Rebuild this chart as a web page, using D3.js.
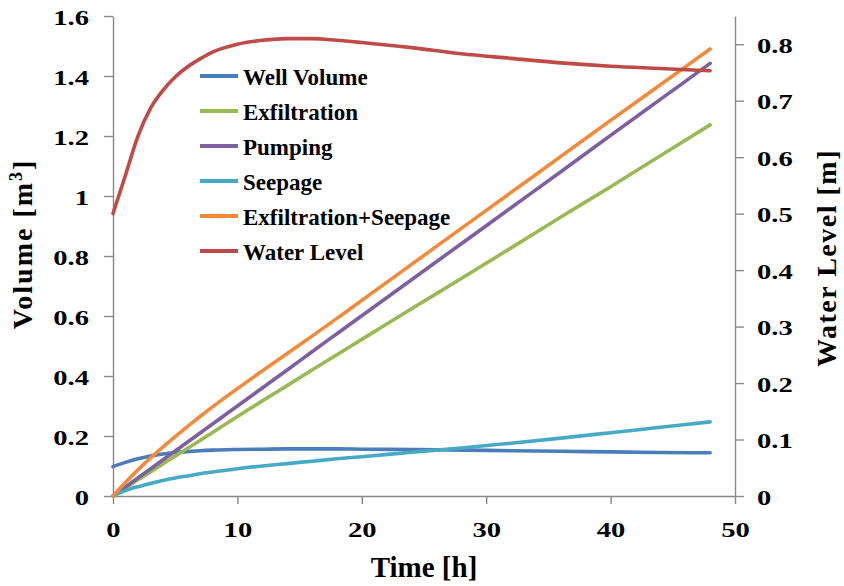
<!DOCTYPE html>
<html><head><meta charset="utf-8">
<script src="https://cdn.jsdelivr.net/npm/d3@7/dist/d3.min.js"></script>
<style>
body{margin:0;background:#fff;}
svg text{font-family:"Liberation Serif","Times New Roman",serif !important;font-weight:bold;fill:#000;}
</style></head>
<body><svg id="c" width="844" height="586"></svg>
<script>
const time = [0,1,2,3,4,5,6,7,8,10,12,14,16,18,20,24,28,32,36,40,44,48];
const wellVolume = [0.098,0.112,0.124,0.133,0.140,0.145,0.148,0.151,0.153,0.155,0.156,0.157,0.157,0.157,0.156,0.155,0.153,0.151,0.149,0.147,0.145,0.144];
const exfiltration = [0,0.027,0.054,0.08,0.107,0.133,0.159,0.185,0.212,0.265,0.317,0.368,0.42,0.471,0.522,0.624,0.725,0.827,0.93,1.031,1.134,1.237];
const pumping = [0,0.03,0.06,0.09,0.12,0.15,0.18,0.21,0.24,0.3,0.36,0.42,0.481,0.541,0.601,0.721,0.841,0.961,1.081,1.202,1.322,1.442];
const seepage = [0,0.018,0.031,0.042,0.052,0.06,0.067,0.074,0.08,0.091,0.1,0.108,0.116,0.124,0.131,0.146,0.16,0.176,0.193,0.211,0.229,0.247];
const exfilSeepage = [0,0.045,0.087,0.126,0.163,0.198,0.232,0.265,0.297,0.358,0.417,0.475,0.533,0.592,0.652,0.772,0.892,1.012,1.132,1.252,1.371,1.49];
const waterLevel = [0.5,0.568,0.637,0.686,0.718,0.742,0.76,0.774,0.786,0.8,0.807,0.81,0.81,0.807,0.803,0.794,0.783,0.775,0.767,0.761,0.757,0.753];
const xTicks = [0,10,20,30,40,50];
const leftTicks = [0,0.2,0.4,0.6,0.8,1,1.2,1.4,1.6];
const rightTicks = [0,0.1,0.2,0.3,0.4,0.5,0.6,0.7,0.8];
const seriesNames = ["Well Volume","Exfiltration","Pumping","Seepage","Exfiltration+Seepage","Water Level"];
const seriesColors = ["#4A7EBB","#98B954","#7D60A0","#46AAC5","#F38A3A","#BE4B48"];

const FONT = "'Liberation Serif','Times New Roman',serif";
const svg = d3.select("#c");
const x = d3.scaleLinear().domain([0,50]).range([113,735]);
const yL = d3.scaleLinear().domain([0,1.6]).range([496,16]);
const yR = d3.scaleLinear().domain([0,0.85]).range([496,16]);
const axisColor = "#898989";
const fmt = d => String(+(+d).toFixed(1));

function styleAxis(g){
  g.attr("font-family",FONT).attr("font-weight","bold");
  g.select(".domain").attr("stroke",axisColor).attr("stroke-width",1.4);
  g.selectAll(".tick line").attr("stroke",axisColor).attr("stroke-width",1.4);
  g.selectAll(".tick text").attr("font-size",22).attr("fill","#000").attr("font-family",FONT).attr("font-weight","bold");
}
// x axis
const gx = svg.append("g").attr("transform","translate(0,496)")
  .call(d3.axisBottom(x).tickValues(xTicks).tickSize(8).tickSizeOuter(0).tickFormat(fmt));
styleAxis(gx);
gx.selectAll(".tick text").attr("y",0).attr("dy",null)
  .attr("transform","translate(0,41) scale(1.3,1)").attr("text-anchor","middle");
// left axis
const gl = svg.append("g").attr("transform","translate(113,0)")
  .call(d3.axisLeft(yL).tickValues(leftTicks).tickSize(9).tickSizeOuter(0).tickFormat(fmt));
styleAxis(gl);
gl.selectAll(".tick text").attr("x",0).attr("dy",null).attr("y",0)
  .attr("transform","translate(-24,8) scale(1.3,1)").attr("text-anchor","end");
// right axis
const gr = svg.append("g").attr("transform","translate(735,0)")
  .call(d3.axisRight(yR).tickValues(rightTicks).tickSize(9).tickSizeOuter(0).tickFormat(fmt));
styleAxis(gr);
gr.selectAll(".tick text").attr("x",0).attr("dy",null).attr("y",0)
  .attr("transform","translate(22,8) scale(1.3,1)").attr("text-anchor","start");

// titles
svg.append("text").attr("x",424).attr("y",577).attr("text-anchor","middle").attr("font-size",29)
  .attr("font-family",FONT).attr("font-weight","bold").text("Time [h]");
const lt = svg.append("text").attr("transform","translate(32,244) rotate(-90)").attr("text-anchor","middle")
  .attr("font-size",28).attr("letter-spacing",2).attr("font-family",FONT).attr("font-weight","bold");
lt.append("tspan").text("Volume [m");
lt.append("tspan").attr("font-size",18).attr("dy",-10).text("3");
lt.append("tspan").attr("dy",10).text("]");
svg.append("text").attr("transform","translate(836,258) rotate(-90)").attr("text-anchor","middle")
  .attr("font-size",28).attr("letter-spacing",1.5).attr("font-family",FONT).attr("font-weight","bold").text("Water Level [m]");

// lines
const seriesData = [wellVolume,exfiltration,pumping,seepage,exfilSeepage,waterLevel];
seriesData.forEach((vals,i)=>{
  const ys = i===5 ? yR : yL;
  const line = d3.line().x((d,j)=>x(time[j])).y(d=>ys(d)).curve(d3.curveMonotoneX);
  svg.append("path").datum(vals).attr("d",line).attr("fill","none")
    .attr("stroke",seriesColors[i]).attr("stroke-width",3.6).attr("stroke-linecap","round").attr("stroke-linejoin","round");
});

// legend
seriesNames.forEach((n,i)=>{
  const yy = 76 + i*35;
  svg.append("line").attr("x1",200).attr("x2",238).attr("y1",yy).attr("y2",yy)
    .attr("stroke",seriesColors[i]).attr("stroke-width",4);
  svg.append("text").attr("x",243).attr("y",yy+9).attr("font-size",23)
    .attr("font-family",FONT).attr("font-weight","bold").text(n);
});
</script></body></html>
